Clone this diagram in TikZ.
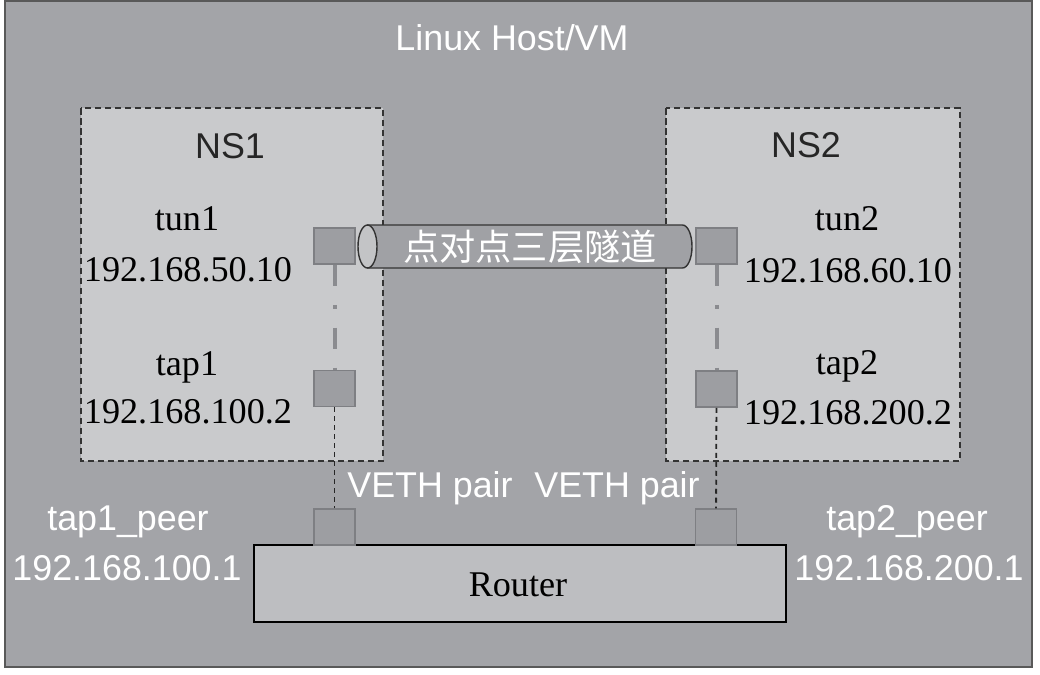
\documentclass[tikz,border=0pt]{standalone}
\usepackage{fontspec}
\usepackage{tikz}
\setmainfont{Liberation Serif}
\newfontfamily\arialfont{Liberation Sans}
\newfontfamily\cjkfont{Noto Sans CJK SC}

\definecolor{hostgray}{HTML}{A3A4A8}
\definecolor{nsgray}{HTML}{C9CACC}
\definecolor{routergray}{HTML}{BDBEC1}
\definecolor{portgray}{HTML}{9D9EA2}
\definecolor{portedge}{HTML}{7E7F83}
\definecolor{tubegray}{HTML}{A0A1A5}
\definecolor{tubeend}{HTML}{C3C4C6}
\definecolor{linkgray}{HTML}{8A8B8F}

\begin{document}
\begin{tikzpicture}[x=0.02cm, y=-0.02cm,
	sanslbl/.style={anchor=base, inner sep=0pt, font=\arialfont\fontsize{20.4}{24}\selectfont},
	seriflbl/.style={anchor=base, inner sep=0pt, text=black, font=\fontsize{20.6}{24}\selectfont},
	port/.style={shape=rectangle, draw=portedge, fill=portgray, line width=0.03cm, minimum width=0.82cm, minimum height=0.72cm, inner sep=0pt},
	tunlink/.style={draw=linkgray, line width=0.08cm, dash pattern=on 0.42cm off 0.38cm on 0.08cm off 0.38cm},
	vethlink/.style={draw=black!85, line width=0.036cm, dash pattern=on 0.1cm off 0.08cm},
	nsbox/.style={draw=black!80, fill=nsgray, line width=0.04cm, dash pattern=on 0.13cm off 0.07cm}]

	\useasboundingbox (0,0) rectangle (1040,674);
	\draw[draw=black!65, fill=hostgray, line width=0.04cm] (5,1) rectangle (1032,667);
	\draw[nsbox] (81,108) rectangle (383,461);
	\draw[nsbox] (666,108) rectangle (960,461);
	\draw[draw=black, fill=routergray, line width=0.035cm] (254,545) rectangle (786,622);

	\node[sanslbl, text=white] (host) at (512,50) {Linux Host/VM};
	\node[sanslbl, text=black!85] (ns1) at (230,158) {NS1};
	\node[sanslbl, text=black!85] (ns2) at (806,157) {NS2};

	\node[seriflbl] (tun1lbl) at (187,230) {tun1};
	\node[seriflbl] (tun1ip) at (188,281) {192.168.50.10};
	\node[seriflbl] (tap1lbl) at (187,375) {tap1};
	\node[seriflbl] (tap1ip) at (188,423) {192.168.100.2};
	\node[seriflbl] (tun2lbl) at (847,230) {tun2};
	\node[seriflbl] (tun2ip) at (848,282) {192.168.60.10};
	\node[seriflbl] (tap2lbl) at (847,374) {tap2};
	\node[seriflbl] (tap2ip) at (848,424) {192.168.200.2};

	\node[sanslbl, text=white] (peer1lbl) at (128,530) {tap1\_peer};
	\node[sanslbl, text=white] (peer1ip) at (127,580) {192.168.100.1};
	\node[sanslbl, text=white] (peer2lbl) at (907,530) {tap2\_peer};
	\node[sanslbl, text=white] (peer2ip) at (909,580) {192.168.200.1};
	\node[sanslbl, text=white] (veth1) at (430,497) {VETH pair};
	\node[sanslbl, text=white] (veth2) at (617,497) {VETH pair};
	\node[seriflbl] (router) at (518,596) {Router};

	\node[port] (tun1) at (334.5,246) {};
	\node[port] (tap1) at (334.5,388.5) {};
	\node[port] (peer1) at (334.5,527) {};
	\node[port] (tun2) at (716.5,246) {};
	\node[port] (tap2) at (716.5,389) {};
	\node[port] (peer2) at (716,527) {};

	\path[tunlink] (tun1) -- (tap1);
	\path[tunlink] (tun2) -- (tap2);
	\path[vethlink] (tap1) -- (peer1);
	\path[vethlink] (tap2) -- (peer2);

	\draw[draw=black!80, fill=tubegray, line width=0.028cm] (367.5,225) -- (682.5,225) arc[start angle=90, end angle=-90, x radius=0.19cm, y radius=0.43cm] -- (367.5,268) -- cycle;
	\draw[draw=black!80, fill=tubeend, line width=0.028cm] (367.5,246.5) ellipse[x radius=0.19cm, y radius=0.43cm];
	\node[anchor=center, inner sep=0pt, text=white, font=\cjkfont\fontsize{20.6}{24}\selectfont] (tunnel) at (530,247) {点对点三层隧道};

\end{tikzpicture}
\end{document}
